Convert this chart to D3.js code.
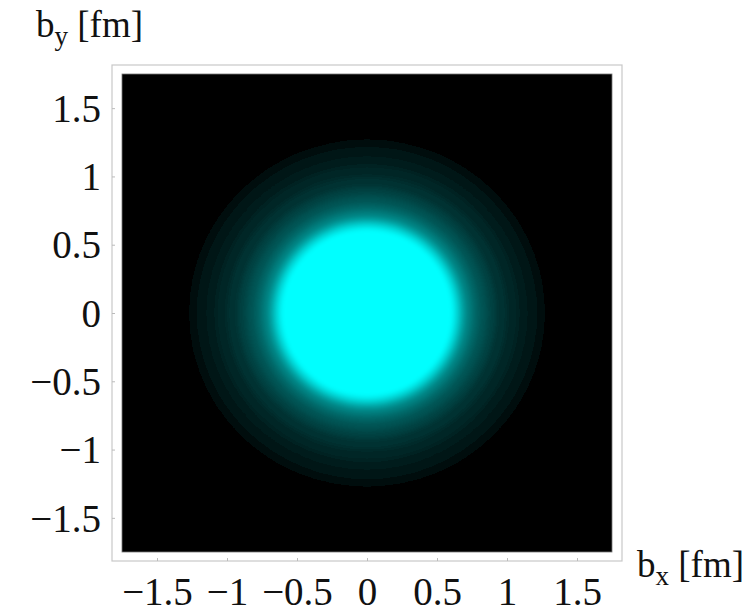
<!DOCTYPE html>
<html>
<head>
<meta charset="utf-8">
<script src="https://cdn.jsdelivr.net/npm/d3@7"></script>
<style>
  body { margin: 0; background: #fff; }
  text { font-family: "Liberation Serif", "DejaVu Serif", serif; fill: #111; }
</style>
</head>
<body>
<div id="chart"></div>
<script>
'use strict';

// radial profile: radius in fm, cyan intensity 0..1
const profileR = [0, 0.62, 0.66, 0.70, 0.75, 0.80, 0.86, 0.92, 1.00, 1.08, 1.15, 1.22, 1.27, 1.38, 1.48];
const profileI = [1, 1, 0.85, 0.65, 0.50, 0.40, 0.32, 0.26, 0.20, 0.15, 0.11, 0.07, 0.04, 0.022, 0.012];

const tickValues = [-1.5, -1, -0.5, 0, 0.5, 1, 1.5];
const tickLabels = ['\u22121.5', '\u22121', '\u22120.5', '0', '0.5', '1', '1.5'];

const width = 753, height = 615;
const plot = {left: 122, right: 612, top: 74, bottom: 552};
const pad = 10; // frame sits outside the image

const svg = d3.select('#chart').append('svg')
    .attr('width', width)
    .attr('height', height);

const x = d3.scaleLinear().domain([-1.75, 1.75]).range([plot.left, plot.right]);
const y = d3.scaleLinear().domain([-1.75, 1.75]).range([plot.bottom, plot.top]);

const defs = svg.append('defs');
defs.append('filter').attr('id', 'soft')
    .attr('x', '-20%').attr('y', '-20%').attr('width', '140%').attr('height', '140%')
  .append('feGaussianBlur').attr('stdDeviation', 2.8);
defs.append('clipPath').attr('id', 'clip')
  .append('rect')
    .attr('x', plot.left).attr('y', plot.top)
    .attr('width', plot.right - plot.left).attr('height', plot.bottom - plot.top);

// outer frame
svg.append('rect')
    .attr('x', plot.left - pad).attr('y', plot.top - pad + 1)
    .attr('width', plot.right - plot.left + 2 * pad)
    .attr('height', plot.bottom - plot.top + 2 * pad - 2)
    .attr('fill', 'none')
    .attr('stroke', '#c8c8c8')
    .attr('stroke-width', 1.2);

// black image
svg.append('rect')
    .attr('x', plot.left).attr('y', plot.top)
    .attr('width', plot.right - plot.left).attr('height', plot.bottom - plot.top)
    .attr('fill', '#000')
    .attr('stroke', '#777')
    .attr('stroke-width', 0.8);

// density bands, biggest first
const bands = profileR.map((r, i) => ({r: r, v: profileI[i]}))
    .filter(d => d.r > 0)
    .reverse();

svg.append('g')
    .attr('clip-path', 'url(#clip)')
  .append('g')
    .attr('filter', 'url(#soft)')
  .selectAll('ellipse')
  .data(bands)
  .enter()
    .append('ellipse')
      .attr('cx', x(0))
      .attr('cy', y(0))
      .attr('rx', d => x(d.r) - x(0))
      .attr('ry', d => y(0) - y(d.r))
      .attr('fill', d => {
          let c = Math.round(255 * d.v);
          return 'rgb(0,' + c + ',' + c + ')';
      });

// axes on the frame
const fmt = d => tickLabels[tickValues.indexOf(d)];

const xAxis = svg.append('g')
    .attr('transform', 'translate(0,' + (plot.bottom + pad - 1) + ')')
    .call(d3.axisBottom(x).tickValues(tickValues).tickFormat(fmt).tickSizeInner(-3).tickSizeOuter(0));
xAxis.select('.domain').remove();
xAxis.selectAll('.tick line').attr('stroke', '#bbb');
xAxis.selectAll('.tick text')
    .attr('y', 44).attr('dy', null)
    .style('font-size', '39px');

const yAxis = svg.append('g')
    .attr('transform', 'translate(' + (plot.left - pad) + ',0)')
    .call(d3.axisLeft(y).tickValues(tickValues).tickFormat(fmt).tickSizeInner(-3).tickSizeOuter(0));
yAxis.select('.domain').remove();
yAxis.selectAll('.tick line').attr('stroke', '#bbb');
yAxis.selectAll('.tick text')
    .attr('x', -11).attr('dy', '0.34em')
    .style('font-size', '39px');

// axis titles
const ty = svg.append('text')
    .attr('x', 36).attr('y', 37)
    .style('font-size', '37px');
ty.append('tspan').text('b');
ty.append('tspan').attr('dy', 8).style('font-size', '27px').text('y');
ty.append('tspan').attr('dy', -8).text(' [fm]');

const tx = svg.append('text')
    .attr('x', 637).attr('y', 577)
    .style('font-size', '37px');
tx.append('tspan').text('b');
tx.append('tspan').attr('dy', 8).style('font-size', '27px').text('x');
tx.append('tspan').attr('dy', -8).text(' [fm]');
</script>
</body>
</html>
